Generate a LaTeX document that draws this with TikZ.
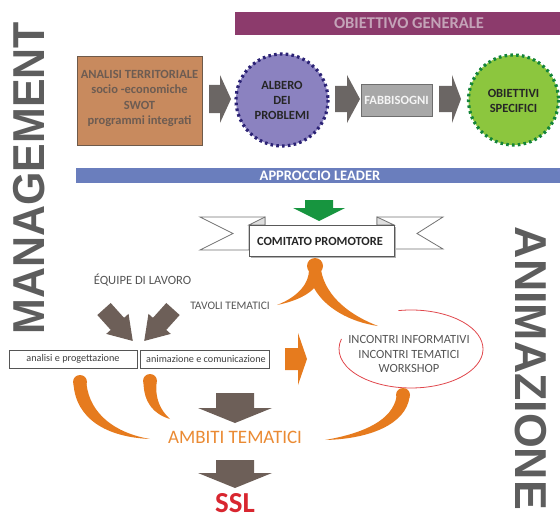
\documentclass[tikz,border=0pt]{standalone}
\usepackage{fontspec}
\setmainfont{Carlito}
\newfontfamily\headfont{Liberation Sans}
\usetikzlibrary{calc}

\definecolor{mgray}{HTML}{5D5D5D}
\definecolor{barpurple}{HTML}{8C3B6C}
\definecolor{barpurpletxt}{HTML}{C4A3B8}
\definecolor{boxorange}{HTML}{C88A5E}
\definecolor{boxorangeline}{HTML}{6E5A4A}
\definecolor{boxorangetxt}{HTML}{6D5C52}
\definecolor{lavender}{HTML}{8B82C0}
\definecolor{navydots}{HTML}{2B2275}
\definecolor{needgray}{HTML}{A8A8A8}
\definecolor{needline}{HTML}{6E6E6E}
\definecolor{leafgreen}{HTML}{8CC63E}
\definecolor{darkgreendots}{HTML}{13843A}
\definecolor{barblue}{HTML}{6A7EBD}
\definecolor{arrowgreen}{HTML}{17953F}
\definecolor{arrowgray}{HTML}{6B6664}
\definecolor{brownarrow}{HTML}{6D5F58}
\definecolor{driporange}{HTML}{E67B1E}
\definecolor{ambiti}{HTML}{EA8A33}
\definecolor{ellred}{HTML}{E0474C}
\definecolor{sslred}{HTML}{D8262F}
\definecolor{txtgray}{HTML}{555555}

% block arrow along +x: total length, body length, body half width, head half width
\newcommand\blockarrow[5]{\fill[#1] (0,-#4) -- (#3,-#4) -- (#3,-#5) -- (#2,0) -- (#3,#5) -- (#3,#4) -- (0,#4) -- cycle;}

\tikzset{
  sidetitle/.style={text=mgray, inner sep=0pt, font=\headfont\bfseries\fontsize{44.7}{46}\selectfont},
  smallcaps/.style={inner sep=0pt, text=txtgray, align=center},
  smallbox/.style={draw=txtgray, line width=0.8pt, fill=white},
  ribbonline/.style={draw=gray!90!black, line width=0.8pt, fill=white, line join=miter},
}

\begin{document}
\begin{tikzpicture}[x=1pt,y=-1pt]
\useasboundingbox (0,0) rectangle (560,519);

% side titles
\node[sidetitle, rotate=90] (management) at (29,178) {\scalebox{0.96}[1]{MANAGEMENT}};
\node[sidetitle, rotate=-90] (animazione) at (531,368.5) {\scalebox{1.0}[1]{ANIMAZIONE}};

% general objective bar
\fill[barpurple] (235,12) rectangle (560,35);
\node[inner sep=0pt, text=barpurpletxt, font=\bfseries\fontsize{16.5}{18}\selectfont] (obgen) at (409,23.5) {OBIETTIVO GENERALE};

% territorial analysis box
\draw[fill=boxorange, draw=boxorangeline, line width=1pt] (77,57) rectangle (202,145);
\node[inner sep=0pt, text=boxorangetxt, align=center, font=\bfseries\fontsize{12.5}{15.3}\selectfont] (analisi) at (139.5,98.5)
  {ANALISI TERRITORIALE\\socio -economiche\\SWOT\\programmi integrati};

% problem tree circle
\fill[lavender] (282,100) circle (46);
\draw[navydots, line width=3.2pt, dash pattern=on 2.6pt off 3.2pt] (282,100) circle (46);
\node[inner sep=0pt, text=black!85, align=center, font=\bfseries\fontsize{12.5}{15}\selectfont] (albero) at (282,100)
  {ALBERO\\DEI\\PROBLEMI};

% needs box
\draw[fill=needgray, draw=needline, line width=1pt] (361,85) rectangle (432,116);
\node[inner sep=0pt, text=white!92!gray, font=\bfseries\fontsize{12.6}{14}\selectfont] (fabbisogni) at (396.5,100.5) {FABBISOGNI};

% specific objectives circle
\fill[leafgreen] (513.5,100) circle (45);
\draw[darkgreendots, line width=3.2pt, dash pattern=on 2.6pt off 3.2pt] (513.5,100) circle (45);
\node[inner sep=0pt, text=black!85, align=center, font=\bfseries\fontsize{12.5}{15}\selectfont] (obspec) at (513.5,100.5)
  {OBIETTIVI\\SPECIFICI};

% gray arrows of the top row
\begin{scope}[shift={(209,99)}]\blockarrow{arrowgray}{22}{11}{14}{24}\end{scope}
\begin{scope}[shift={(335,99)}]\blockarrow{arrowgray}{25}{12}{13}{24}\end{scope}
\begin{scope}[shift={(439,99)}]\blockarrow{arrowgray}{22}{13}{13}{24}\end{scope}

% leader approach bar
\fill[barblue] (76,168) rectangle (560,183);
\node[inner sep=0pt, text=white, font=\bfseries\fontsize{14.5}{15}\selectfont] (leader) at (320,175.5) {APPROCCIO LEADER};

% green arrow down to the committee
\begin{scope}[shift={(319,200)}, rotate=-90]\blockarrow{arrowgreen}{21}{8}{14}{26}\end{scope}

% ribbon banner
\draw[ribbonline] (265,217) -- (200,217) -- (233,233.5) -- (200,250) -- (249,250) -- (249,225) -- (265,225) -- cycle;
\draw[ribbonline] (377,217) -- (443,217) -- (417,233.5) -- (443,249) -- (394,249) -- (394,225) -- (377,225) -- cycle;
\draw[ribbonline, fill=gray!25] (265,217) -- (249,225) -- (265,225) -- cycle;
\draw[ribbonline, fill=gray!25] (377,217) -- (394,225) -- (377,225) -- cycle;
\fill[gray!60] (251,227) rectangle (396,258);
\draw[fill=white, draw=black!65, line width=1pt] (249,225) rectangle (394,256);
\node[inner sep=0pt, text=black!85, font=\bfseries\fontsize{12.4}{14}\selectfont] (comitato) at (320,241) {COMITATO PROMOTORE};

% orange split below the committee
\fill[driporange] (315,266) circle (8);
\fill[driporange] (309,270) .. controls (309,282) and (300,296) .. (277,305)
  .. controls (297,301) and (309,294) .. (314,288)
  .. controls (325,308) and (350,322) .. (378,326)
  .. controls (352,316) and (326,298) .. (321,270) -- cycle;

% work teams and thematic tables
\node[smallcaps, font=\fontsize{12.6}{14}\selectfont] (equipe) at (142.5,280) {ÉQUIPE DI LAVORO};
\node[smallcaps, anchor=east, font=\fontsize{11.5}{13}\selectfont] (tavoli) at (270,306) {TAVOLI TEMATICI};

% converging brown arrows
\begin{scope}[shift={(104,309)}, rotate=-48]\blockarrow{brownarrow}{43}{20}{9}{15}\end{scope}
\begin{scope}[shift={(173,309)}, rotate=-132]\blockarrow{brownarrow}{43}{20}{9}{15}\end{scope}

% activity boxes
\draw[smallbox] (9,350) rectangle (137,368);
\node[inner sep=0pt, text=black!75, font=\fontsize{10.2}{11}\selectfont] (progett) at (73,359) {analisi e progettazione};
\draw[smallbox] (140,350) rectangle (269,368);
\node[inner sep=0pt, text=black!75, font=\fontsize{10.2}{11}\selectfont] (comunic) at (206,359) {animazione e comunicazione};

% orange arrow towards the meetings
\begin{scope}[shift={(285,359)}]\blockarrow{driporange}{22}{13}{11}{26}\end{scope}

% meetings ellipse
\draw[ellred, line width=0.8pt] ($(411,349)+(100:72 and -39)$) arc[start angle=100, end angle=-195, x radius=72, y radius=-39];
\node[smallcaps, font=\fontsize{12.5}{14.5}\selectfont] (incontri) at (409,354) {INCONTRI INFORMATIVI\\INCONTRI TEMATICI\\WORKSHOP};

% orange drips into the thematic areas
\fill[driporange] (80,382) circle (7);
\fill[driporange] (73.5,384) .. controls (76,418) and (105,437) .. (150,439)
  .. controls (115,433) and (90,414) .. (86.5,384) -- cycle;
\fill[driporange] (150,381) circle (7);
\fill[driporange] (143.5,383) .. controls (144,402) and (153,414) .. (170,419)
  .. controls (160,410) and (155,398) .. (156.5,383) -- cycle;
\fill[driporange] (403,395) circle (7);
\fill[driporange] (409.5,397) .. controls (406,424) and (370,439) .. (325,440)
  .. controls (365,433) and (392,420) .. (396.5,397) -- cycle;

% thematic areas and local strategy
\begin{scope}[shift={(235,393)}, rotate=-90]\blockarrow{brownarrow}{30}{15}{19}{37}\end{scope}
\node[inner sep=0pt, text=ambiti, font=\fontsize{19}{20}\selectfont] (ambitiT) at (235,437) {AMBITI TEMATICI};
\begin{scope}[shift={(235,460)}, rotate=-90]\blockarrow{brownarrow}{28}{13}{19}{37}\end{scope}
\node[inner sep=0pt, text=sslred, font=\bfseries\fontsize{29}{30}\selectfont] (ssl) at (235,503.5) {SSL};
\end{tikzpicture}
\end{document}
